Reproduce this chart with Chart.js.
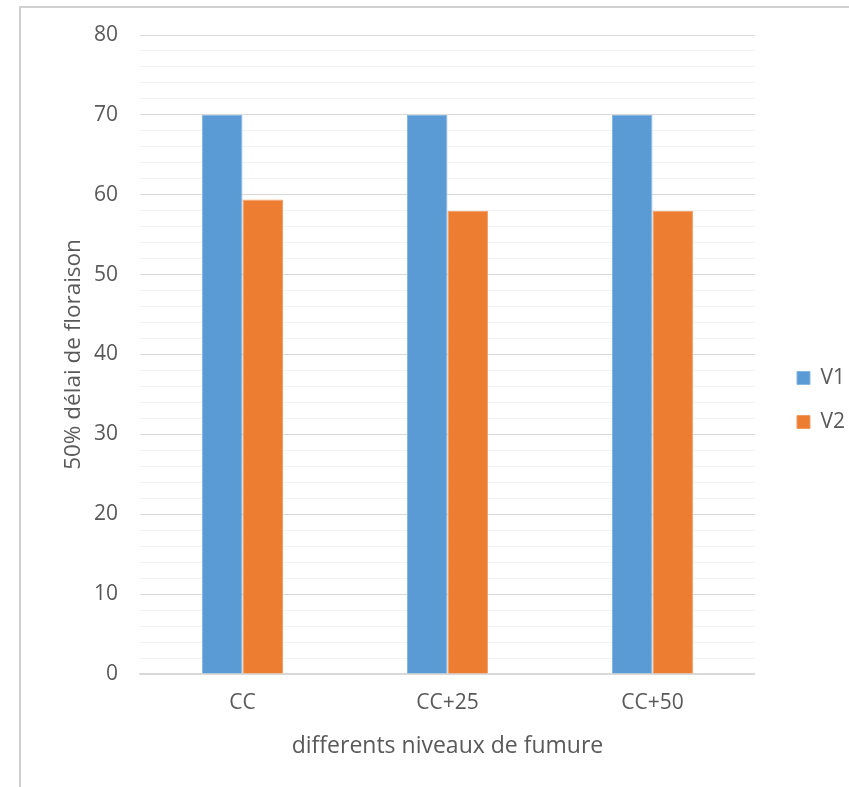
<!DOCTYPE html>
<html>
<head>
<meta charset="utf-8">
<script src="https://cdn.jsdelivr.net/npm/chart.js@4/dist/chart.umd.min.js"></script>
<style>
  html, body { margin: 0; padding: 0; background: #ffffff; }
  #c { display: block; }
</style>
</head>
<body>
<canvas id="c" width="849" height="787"></canvas>
<script>
// Flowering delay (days to 50 % flowering) per fertilisation level
const categories = ['CC', 'CC+25', 'CC+50'];
const seriesNames = ['V1', 'V2'];
const v1Values = [70, 70, 70];
const v2Values = [59.4, 58, 58];
const yMin = 0;
const yMax = 80;
const yMinorStep = 2;
const yMajorStep = 10;
const yTitle = '50% délai de floraison';
const xTitle = 'differents niveaux de fumure';

const textColor = '#595959';
const fontFamily = '"Open Sans", "DejaVu Sans", sans-serif';

// Light chart-object frame (left and top edges fall inside the canvas)
const chartFrame = {
  id: 'chartFrame',
  beforeDraw(chart) {
    const ctx = chart.ctx;
    ctx.save();
    ctx.fillStyle = '#ffffff';
    ctx.fillRect(0, 0, chart.width, chart.height);
    ctx.fillStyle = '#d0d0d0';
    ctx.fillRect(19, 6, 2, chart.height - 6);
    ctx.fillRect(19, 6, chart.width - 19, 2);
    ctx.restore();
  }
};

// Keep the legend a little away from the plot and centred on the page height
const legendPlacement = {
  id: 'legendPlacement',
  afterLayout(chart) {
    const lg = chart.legend;
    if (!lg) return;
    const w = lg.width;
    lg.left = chart.chartArea.right + 19;
    lg.right = lg.left + w;
    lg.top = 13;
    lg.bottom = chart.height;
  }
};

new Chart(document.getElementById('c'), {
  type: 'bar',
  data: {
    labels: categories,
    datasets: [
      {
        label: seriesNames[0],
        data: v1Values,
        backgroundColor: '#5B9BD5',
        borderColor: '#86b6e2',
        borderWidth: 1
      },
      {
        label: seriesNames[1],
        data: v2Values,
        backgroundColor: '#ED7D31',
        borderColor: '#f29b62',
        borderWidth: 1
      }
    ]
  },
  options: {
    responsive: false,
    devicePixelRatio: 1,
    animation: false,
    layout: { padding: { top: 35, right: 13, bottom: 0, left: 0 } },
    datasets: {
      bar: { categoryPercentage: 0.395, barPercentage: 1.0 }
    },
    scales: {
      x: {
        grid: { display: false, drawTicks: false },
        border: { display: true, color: '#d9d9d9', width: 1.5 },
        ticks: {
          color: textColor,
          font: { family: fontFamily, size: 21 },
          padding: 16
        },
        title: {
          display: true,
          text: xTitle,
          color: textColor,
          font: { family: fontFamily, size: 23 },
          padding: { top: 0, bottom: 27 }
        },
        afterFit(scale) { scale.height = 113; }
      },
      y: {
        min: yMin,
        max: yMax,
        grid: {
          drawTicks: false,
          lineWidth: 1,
          color: (ctx) => (ctx.tick && ctx.tick.value % yMajorStep === 0) ? '#d9d9d9' : '#f2f2f2'
        },
        border: { display: false },
        ticks: {
          stepSize: yMinorStep,
          autoSkip: false,
          color: textColor,
          font: { family: fontFamily, size: 21 },
          padding: 22,
          callback: (v) => (v % yMajorStep === 0 ? String(v) : '')
        },
        title: {
          display: true,
          text: yTitle,
          color: textColor,
          font: { family: fontFamily, size: 22.5 },
          padding: { top: 60, bottom: 0 }
        },
        afterFit(scale) { scale.width = 140; }
      }
    },
    plugins: {
      legend: {
        position: 'right',
        align: 'center',
        labels: {
          boxWidth: 13,
          boxHeight: 13,
          padding: 23,
          color: textColor,
          font: { family: fontFamily, size: 21 }
        }
      },
      tooltip: { enabled: false },
      title: { display: false }
    }
  },
  plugins: [chartFrame, legendPlacement]
});
</script>
</body>
</html>
